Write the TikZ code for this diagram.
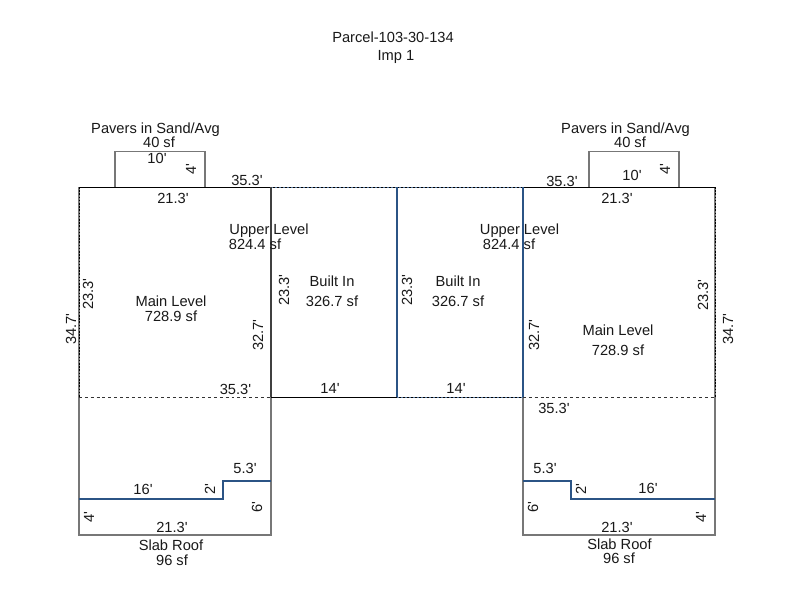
\documentclass[tikz,border=0pt]{standalone}
\usepackage{fontspec}
\setmainfont{Liberation Sans}[Ligatures=TeXOff]
\definecolor{wallgrey}{HTML}{777777}
\definecolor{walldark}{HTML}{404040}
\definecolor{wallblue}{HTML}{2B5485}
\tikzset{
  lbl/.style={inner sep=0pt,font=\fontsize{11pt}{11pt}\selectfont,text=black!90},
  vlbl/.style={lbl,rotate=90},
  greywall/.style={draw=wallgrey,line width=1.125pt},
  darkwall/.style={draw=walldark,line width=1.125pt},
  bluewall/.style={draw=wallblue,line width=1.125pt},
  thinblue/.style={draw=wallblue,line width=0.85pt},
  thinblack/.style={draw=black,line width=0.6pt},
  dotblack/.style={draw=black,line width=0.7pt,dash pattern=on 1.2pt off 1.2pt},
  dotblue/.style={draw=wallblue!80!white,line width=0.7pt,dash pattern=on 1.5pt off 1.5pt},
  dashblack/.style={draw=black!80,line width=0.7pt,dash pattern=on 2.2pt off 2.2pt},
  px/.style={x=0.75pt,y=-0.75pt},
}
\begin{document}
\begin{tikzpicture}[px]
\useasboundingbox (0,0) rectangle (800,600);
\fill[white] (0,0) rectangle (800,600);
% pavers
\draw[greywall] (115,187) -- (115,151.5) -- (205,151.5) -- (205,187);
\draw[greywall] (589,187) -- (589,151.5) -- (679,151.5) -- (679,187);
% slab roofs
\draw[greywall] (271,397) -- (271,535) -- (79,535) -- (79,397);
\draw[greywall] (523,397) -- (523,535) -- (715,535) -- (715,397);
% step lines
\draw[thinblue] (79,499) -- (223,499) -- (223,481) -- (271,481);
\draw[thinblue] (523,481) -- (571,481) -- (571,499) -- (715,499);
% main outline
\draw[greywall] (79,187) -- (79,397);
\draw[greywall] (715,187) -- (715,397);
\draw[thinblack] (79,187) -- (271,187);
\draw[thinblack] (523,187) -- (715,187);
% dotted overlays
\draw[dotblack] (79,187) -- (79,397);
\draw[dotblack] (715,187) -- (715,397);
\draw[dashblack] (79,397) -- (271,397);
\draw[dashblack] (523,397) -- (715,397);
% built-in
\draw[thinblack] (271,397) -- (523,397);
\draw[thinblack] (271,187) -- (523,187);
\draw[dotblue] (271,187) -- (523,187);
\draw[dotblue] (397,397) -- (523,397);
\draw[darkwall] (271,187) -- (271,397);
\draw[bluewall] (397,187) -- (397,397);
\draw[bluewall] (523,187) -- (523,397);
% title
\node[lbl] (title1) at (393,37.5) {Parcel-103-30-134};
\node[lbl] (title2) at (396,57) {Imp 1};
% left side labels
\node[lbl] (pav1) at (155.5,129.5) {Pavers in Sand/Avg};
\node[lbl] (pav1a) at (159,142) {40 sf};
\node[lbl] (a1) at (157,158.5) {10'};
\node[vlbl] (a2) at (191,169) {4'};
\node[lbl] (a3) at (247,180) {35.3'};
\node[lbl] (a4) at (173,198) {21.3'};
\node[lbl] (up1) at (269,231) {Upper Level};
\node[lbl] (up1a) at (255,244.5) {824.4 sf};
\node[lbl] (ml1) at (171,301) {Main Level};
\node[lbl] (ml1a) at (171,316) {728.9 sf};
\node[vlbl] (a5) at (88,294) {23.3'};
\node[vlbl] (a6) at (71,329) {34.7'};
\node[vlbl] (a7) at (258,335) {32.7'};
\node[vlbl] (a8) at (284,290) {23.3'};
\node[lbl] (bi1) at (332,281) {Built In};
\node[lbl] (bi1a) at (332,301) {326.7 sf};
\node[lbl] (a9) at (235.5,389) {35.3'};
\node[lbl] (a10) at (330,388) {14'};
\node[lbl] (a11) at (245,468.5) {5.3'};
\node[lbl] (a12) at (143,489.5) {16'};
\node[vlbl] (a13) at (210,489.5) {2'};
\node[vlbl] (a14) at (257,507) {6'};
\node[vlbl] (a15) at (89,517) {4'};
\node[lbl] (a16) at (172,527) {21.3'};
\node[lbl] (sl1) at (171,545) {Slab Roof};
\node[lbl] (sl1a) at (172,560) {96 sf};
% right side labels
\node[lbl] (pav2) at (625.5,129.5) {Pavers in Sand/Avg};
\node[lbl] (pav2a) at (630,142) {40 sf};
\node[lbl] (b1) at (632,175) {10'};
\node[vlbl] (b2) at (665,169) {4'};
\node[lbl] (b3) at (562,181) {35.3'};
\node[lbl] (b4) at (617,198) {21.3'};
\node[lbl] (up2) at (519.5,231) {Upper Level};
\node[lbl] (up2a) at (509,244) {824.4 sf};
\node[vlbl] (b5) at (407,290) {23.3'};
\node[lbl] (bi2) at (458,281) {Built In};
\node[lbl] (bi2a) at (458,301) {326.7 sf};
\node[vlbl] (b6) at (534,335) {32.7'};
\node[vlbl] (b7) at (703,295) {23.3'};
\node[vlbl] (b8) at (728,329) {34.7'};
\node[lbl] (ml2) at (618,330) {Main Level};
\node[lbl] (ml2a) at (618,350) {728.9 sf};
\node[lbl] (b9) at (456,388) {14'};
\node[lbl] (b10) at (554,408) {35.3'};
\node[lbl] (b11) at (545,468.5) {5.3'};
\node[vlbl] (b12) at (581,489.5) {2'};
\node[lbl] (b13) at (648,488) {16'};
\node[vlbl] (b14) at (533,507) {6'};
\node[vlbl] (b15) at (701,517) {4'};
\node[lbl] (b16) at (617,527) {21.3'};
\node[lbl] (sl2) at (619.5,544) {Slab Roof};
\node[lbl] (sl2a) at (619,558) {96 sf};
\end{tikzpicture}
\end{document}
